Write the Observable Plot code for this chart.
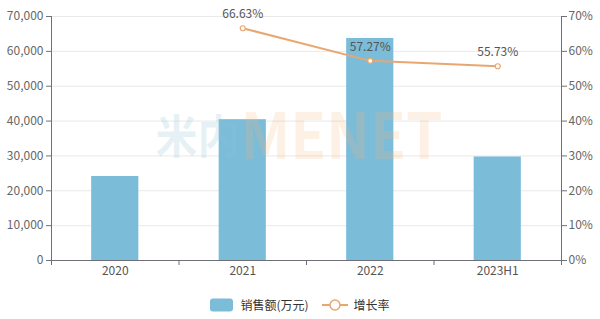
<!DOCTYPE html>
<html><head><meta charset="utf-8">
<script src="https://cdn.jsdelivr.net/npm/d3@7"></script>
<script src="https://cdn.jsdelivr.net/npm/@observablehq/plot@0.6"></script>
<style>
body{margin:0;background:#fff;font-family:"Noto Sans CJK SC","Noto Sans",sans-serif;}
#legend{display:flex;justify-content:center;align-items:center;height:29px;font-size:12px;color:#333;}
.item{display:flex;align-items:center;margin:0 5px;}
</style></head><body><div id="chart"></div><div id="legend"></div>
<script>
const categories = ["2020", "2021", "2022", "2023H1"];
const sales = [24100, 40400, 63700, 29700];
const rateCategories = ["2021", "2022", "2023H1"];
const rates = [66.63, 57.27, 55.73];
const leftTicks = [0, 10000, 20000, 30000, 40000, 50000, 60000, 70000];
const rightTicks = [0, 10, 20, 30, 40, 50, 60, 70];
const seriesNames = ["销售额(万元)", "增长率"];
const watermark = ["米内", "MENET"];

const barColor = "#7bbcd9";
const lineColor = "#e8a771";
const barData = categories.map((c, i) => ({c, i, v: sales[i]}));
const lineData = rateCategories.map((c, k) => ({c, i: categories.indexOf(c), r: rates[k]}));
const half = 0.185;

const chart = Plot.plot({
  width: 600, height: 290,
  marginLeft: 51, marginRight: 39, marginTop: 16, marginBottom: 30,
  style: {fontFamily: '"Noto Sans CJK SC","Noto Sans",sans-serif', fontSize: "12px", color: "#666"},
  x: {type: "linear", domain: [0, categories.length], axis: null},
  y: {domain: [0, 70000], axis: null},
  marks: [
    Plot.gridY(leftTicks, {stroke: "#e9e9e9", strokeOpacity: 1}),
    Plot.rectY(barData, {x1: d => d.i + 0.5 - half, x2: d => d.i + 0.5 + half, y: "v", fill: barColor}),
    Plot.text([watermark[0]], {frameAnchor: "top-left", lineAnchor: "middle", dx: 104, dy: 122, fontSize: 46, fontWeight: "bold", fill: "#8fc3d6", fillOpacity: 0.22, textAnchor: "start"}),
    Plot.text([watermark[1]], {frameAnchor: "top-left", lineAnchor: "middle", dx: 189, dy: 122, fontSize: 64, fontWeight: "bold", fill: "#f7b27a", fillOpacity: 0.2, textAnchor: "start"}),
    Plot.ruleX([0, categories.length], {stroke: "#6e7079"}),
    Plot.ruleY([0], {stroke: "#6e7079"}),
    Plot.axisY({anchor: "left", label: null, ticks: leftTicks, tickFormat: d3.format(","), tickSize: 5, tickPadding: 3, stroke: "#6e7079", fill: "#666", fontSize: 12}),
    Plot.axisY({anchor: "right", label: null, ticks: leftTicks, tickFormat: (d, k) => rightTicks[k] + "%", tickSize: 5, tickPadding: 2, stroke: "#6e7079", fill: "#666", fontSize: 12}),
    Plot.axisX({label: null, ticks: d3.range(categories.length + 1), tickFormat: () => "", tickSize: 5, stroke: "#6e7079"}),
    Plot.axisX({label: null, ticks: categories.map((c, i) => i + 0.5), tickFormat: d => categories[d - 0.5], tickSize: 0, tickPadding: 6, fill: "#555", fontSize: 12}),
    Plot.line(lineData, {x: d => d.i + 0.5, y: d => d.r * 1000, stroke: lineColor, strokeWidth: 2}),
    Plot.dot(lineData, {x: d => d.i + 0.5, y: d => d.r * 1000, r: 2.5, fill: "#fff", stroke: lineColor, strokeWidth: 1.2}),
    Plot.text(lineData, {x: d => d.i + 0.5, y: d => d.r * 1000, text: d => d.r.toFixed(2) + "%", dy: -14, fill: "#555", fontSize: 12})
  ]
});
d3.select(chart).selectAll("text").each(function () {
  const t = this.textContent;
  if (t === watermark[0]) d3.select(this).attr("textLength", 84).attr("lengthAdjust", "spacingAndGlyphs");
  if (t === watermark[1]) d3.select(this).attr("textLength", 202).attr("lengthAdjust", "spacingAndGlyphs");
});
document.getElementById("chart").appendChild(chart);

const legend = document.getElementById("legend");
legend.innerHTML = `
<div class="item"><svg width="24" height="14"><rect x="0" y="0.5" width="23" height="13" rx="3" fill="${barColor}"/></svg><span style="margin-left:6px">${seriesNames[0]}</span></div>
<div class="item" style="margin-left:8px"><svg width="26" height="14"><line x1="0" y1="7" x2="26" y2="7" stroke="${lineColor}" stroke-width="2"/><circle cx="13" cy="7" r="5" fill="#fff" stroke="${lineColor}" stroke-width="1.5"/></svg><span style="margin-left:6px">${seriesNames[1]}</span></div>`;
</script></body></html>
